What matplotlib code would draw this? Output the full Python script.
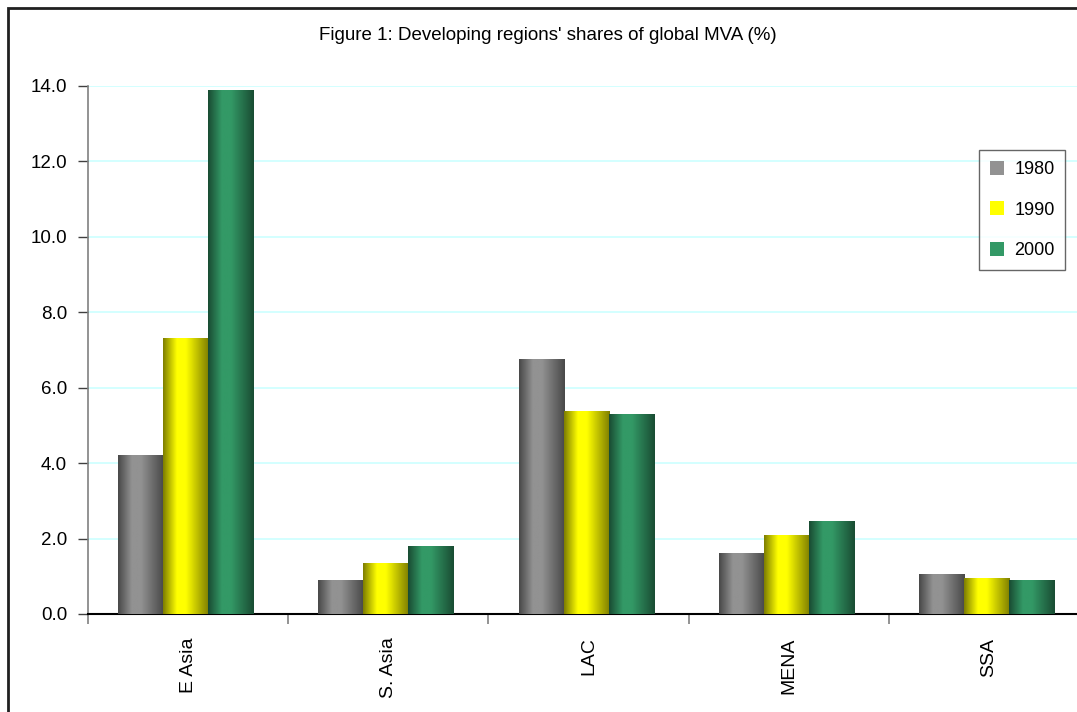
import numpy as np
import matplotlib
matplotlib.use('Agg')
import matplotlib.pyplot as plt
from matplotlib.patches import Patch, Rectangle

REGIONS = ['E Asia', 'S. Asia', 'LAC', 'MENA', 'SSA']
YEARS = ['1980', '1990', '2000']
SHARE_1980 = [4.2, 0.9, 6.75, 1.6, 1.05]
SHARE_1990 = [7.3, 1.33, 5.37, 2.07, 0.95]
SHARE_2000 = [13.88, 1.8, 5.3, 2.45, 0.9]
Y_TICKS = [0.0, 2.0, 4.0, 6.0, 8.0, 10.0, 12.0, 14.0]

BASE_COLORS = ['#929292', '#ffff00', '#339966']

plt.rcParams['font.family'] = ['Liberation Sans', 'DejaVu Sans']


def gradient_image(base_color):
    # cylinder-like shading across the bar width
    rgb = np.array(matplotlib.colors.to_rgb(base_color))
    t = np.linspace(0, 1, 64)
    f = np.interp(t, [0, 0.3, 0.5, 1], [0.5, 1.0, 1.0, 0.5])
    img = f[:, None] * rgb[None, :]
    return img[None, :, :]


fig = plt.figure(figsize=(10.77, 7.12), dpi=100)
ax = fig.add_axes([88 / 1077, 1 - 614 / 712, 1001 / 1077, 528 / 712])

x = np.arange(len(REGIONS))
width = 0.225
series = [SHARE_1980, SHARE_1990, SHARE_2000]

for i, values in enumerate(series):
    bars = ax.bar(x + (i - 1) * width - 0.012, values, width=width, color='none',
                  edgecolor='none', zorder=3)
    img = gradient_image(BASE_COLORS[i])
    for b in bars:
        x0, y0 = b.get_x(), b.get_y()
        ax.imshow(img, extent=[x0, x0 + b.get_width(), y0, y0 + b.get_height()],
                  aspect='auto', interpolation='bilinear', zorder=3)

ax.set_xlim(-0.5, len(REGIONS) - 0.5)
ax.set_ylim(0, 14)
ax.set_yticks(Y_TICKS)
ax.set_yticklabels([f'{v:.1f}' for v in Y_TICKS], fontsize=13.5)
ax.yaxis.grid(True, color='#ccffff', linewidth=1.2, zorder=0)
ax.set_axisbelow(True)

# category labels at centres, tick marks at boundaries
ax.set_xticks(np.arange(len(REGIONS) + 1) - 0.5)
ax.set_xticklabels([])
ax.set_xticks(x, minor=True)
ax.set_xticklabels(REGIONS, minor=True, rotation=90, fontsize=14)
ax.tick_params(axis='x', which='minor', length=0, pad=17)
ax.tick_params(axis='x', which='major', length=7, color='#808080', width=1.2)
ax.tick_params(axis='y', length=7, color='#404040', width=1.0, pad=8)

for side in ['top', 'right']:
    ax.spines[side].set_visible(False)
ax.spines['left'].set_color('#808080')
ax.spines['left'].set_linewidth(1.2)
ax.spines['bottom'].set_color('black')
ax.spines['bottom'].set_linewidth(1.5)

fig.text(548 / 1077, 1 - 36 / 712, "Figure 1: Developing regions' shares of global MVA (%)",
         ha='center', va='center', fontsize=13.5)

handles = [Patch(facecolor=c, edgecolor='none') for c in BASE_COLORS]
leg = fig.legend(handles, YEARS, loc='upper left',
                 bbox_to_anchor=(979 / 1077, 1 - 150 / 712), fontsize=13,
                 frameon=True, fancybox=False, edgecolor='#404040',
                 handlelength=0.8, handleheight=0.8, labelspacing=1.3,
                 borderpad=0.6, handletextpad=0.55, borderaxespad=0)
leg.get_frame().set_linewidth(1.0)

# outer chart border
fig.patches.append(Rectangle((8 / 1077, -0.05), 1.2, 1 - 8 / 712 + 0.05,
                             transform=fig.transFigure, fill=False,
                             edgecolor='#202020', linewidth=2))

fig.savefig('out.png', dpi=100)
